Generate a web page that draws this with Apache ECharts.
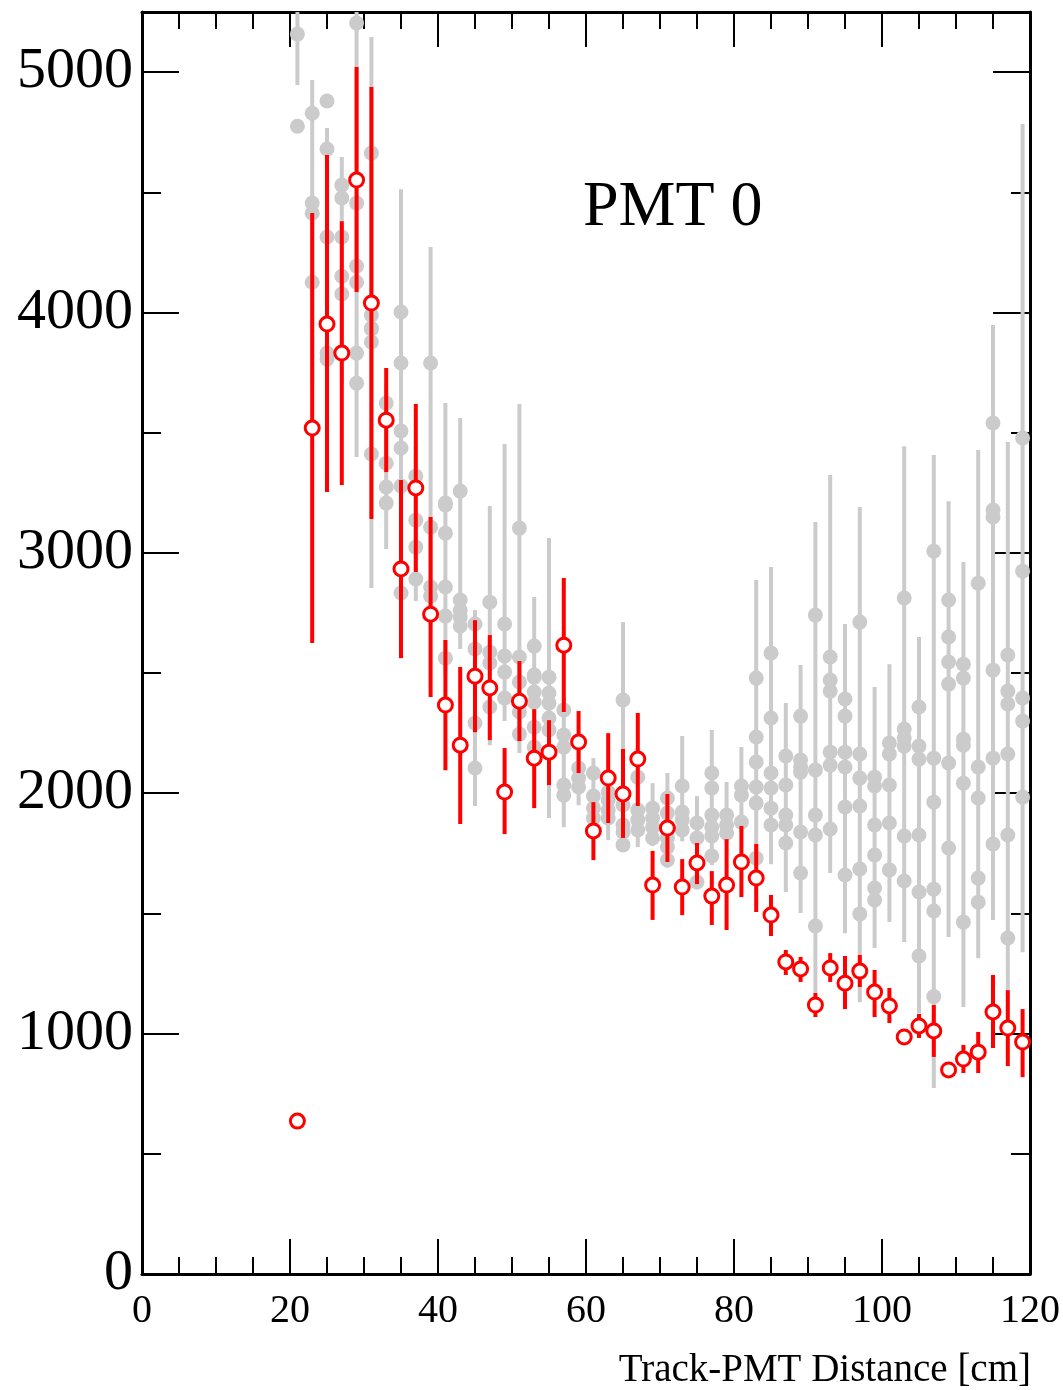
<!DOCTYPE html>
<html>
<head>
<meta charset="utf-8">
<script src="https://cdn.jsdelivr.net/npm/echarts@6/dist/echarts.min.js"></script>
<style>
html,body{margin:0;padding:0;background:#fff;}
#chart{width:1063px;height:1390px;}
</style>
</head>
<body>
<div id="chart"></div>
<script>
// ---- Red series (open circles): x, value, error-bar low end, error-bar high end
const redX  = [21,23,25,27,29,31,33,35,37,39,41,43,45,47,49,51,53,55,57,59,61,63,65,67,69,71,73,75,77,79,81,83,85,87,89,91,93,95,97,99,101,103,105,107,109,111,113,115,117,119];
const redY  = [636,3519,3952,3831,4551,4039,3552,2933,3270,2745,2367,2200,2487,2438,2005,2383,2146,2171,2616,2213,1843,2063,1997,2142,1618,1855,1610,1710,1572,1618,1714,1647,1493,1298,1269,1119,1273,1210,1260,1173,1115,986,1032,1011,849,894,923,1090,1023,965];
const redLo = [636,2625,3253,3282,4085,3141,3336,2562,2920,2400,2096,1872,2254,2221,1830,2217,1938,2034,2338,2084,1722,1876,1814,1947,1473,1714,1493,1622,1452,1431,1568,1506,1406,1244,1215,1069,1215,1102,1194,1069,1044,986,982,903,849,836,836,940,865,819];
const redHi = [636,4414,4655,4380,5021,4938,3769,3303,3619,3149,2637,2525,2720,2658,2188,2550,2350,2304,2895,2342,1963,2250,2184,2334,1760,1997,1726,1793,1676,1809,1864,1789,1577,1348,1319,1169,1335,1323,1327,1265,1190,986,1082,1119,849,953,1007,1244,1181,1102];

// ---- Grey series (filled dots): per x column, the dot values and the error-bar extent
const greyX  = [21,23,25,27,29,31,33,35,37,39,41,43,45,47,49,51,53,55,57,59,61,63,65,67,69,71,73,75,77,79,81,83,85,87,89,91,93,95,97,99,101,103,105,107,109,111,113,115,117,119];
const greyLo = [4946,3700,3700,3700,3399,2854,3016,2780,2800,2700,2500,2600,1947,2200,2300,2167,2150,1897,1859,1950,1850,1805,1760,1776,1780,1690,1800,1600,1700,1800,1840,1700,1705,1589,1502,1169,1668,1418,1131,1356,1464,1381,1086,774,1402,1111,1314,1473,1181,1339];
const greyHi = [5250,4967,4767,4647,5250,5146,3700,4513,3450,4272,3623,3561,2762,3195,3453,3619,2816,3062,2400,2200,2146,2100,2712,2150,2042,2084,2238,1988,2263,2047,2192,2887,2941,2375,2533,3128,3324,2704,3191,2442,2537,3444,2650,3407,3215,2962,3428,3948,3461,4784];
const greyY = [
  [5158,4775],
  [4829,4455,4413,4126],
  [4880,4680,4314,3831,3806],
  [4530,4476,4314,4151,4077],
  [5204,4455,4193,4126,3831,3706],
  [4663,3989,3935,3931,3877,3411],
  [3623,3373,3274,3207],
  [4002,3790,3507,3436,3278,2833],
  [3319,3136,3024,2891],
  [3790,3107,2858,2820],
  [3207,3199,3082,2858,2737,2562],
  [3257,2804,2761,2733,2696],
  [2704,2600,2492,2292,2105],
  [2795,2587,2542,2359],
  [2704,2571,2504,2396],
  [3103,2567,2463,2338,2246],
  [2612,2492,2483,2421,2379,2275,2192],
  [2483,2417,2375,2313,2263],
  [2346,2242,2192,2034,1992],
  [2105,2063,2026],
  [2084,1988,1938,1897],
  [2005,1972,1930,1897],
  [2388,1951,1868,1839,1785],
  [2067,1930,1889,1847],
  [1938,1897,1859,1814],
  [1980,1918,1814,1776,1722],
  [2030,1922,1889,1847],
  [1876,1814,1631],
  [2084,2022,1909,1859,1822,1739],
  [1909,1868,1834],
  [2030,1992,1880],
  [2479,2234,2130,2026,1959,1730],
  [2583,2313,2084,2022,1938,1868],
  [2155,2034,1909,1868,1793],
  [2321,2138,2109,2088,1839,1668],
  [2741,2097,1909,1826,1448],
  [2567,2471,2425,2171,2117,1851],
  [2392,2321,2171,2109,1943,1660],
  [2712,2163,2063,1947,1685,1498],
  [2067,2030,1868,1743,1606,1556],
  [2209,2163,2034,1876,1681],
  [2812,2267,2230,2196,1822,1635],
  [2359,2196,2142,1826,1589,1323],
  [3007,2146,1963,1601,1510,1154],
  [2804,2650,2546,2454,2126,1772],
  [2537,2479,2225,2200,2042,1464],
  [2874,2109,1980,1647,1547],
  [3540,3178,3149,2512,2146,1789],
  [2575,2425,2371,2163,1826,1398],
  [3478,2924,2396,2300,1984]
];

// ---- Axis settings / texts
const xMin = 0, xMax = 120, xStep = 20;
const yMin = 0, yMax = 5250, yStep = 1000;
const xTitle = 'Track-PMT Distance [cm]';
const panelLabel = 'PMT 0';

// ---- build library data
const greyPts = [];
greyX.forEach((x, i) => greyY[i].forEach(y => greyPts.push([x, y])));
const greyBars = greyX.map((x, i) => [x, greyLo[i], greyHi[i]]);
const redPts = redX.map((x, i) => [x, redY[i]]);
const redBars = redX.map((x, i) => [x, redLo[i], redHi[i]]);

const FONT = '"Liberation Serif", "DejaVu Serif", serif';

function barRenderer(color) {
  return function (params, api) {
    const a = api.coord([api.value(0), api.value(1)]);
    const b = api.coord([api.value(0), api.value(2)]);
    return {
      type: 'line',
      shape: { x1: a[0], y1: a[1], x2: b[0], y2: b[1] },
      style: { stroke: color, lineWidth: 4 }
    };
  };
}

function xAx(pos, showLabel) {
  return {
    type: 'value', min: xMin, max: xMax, interval: xStep, position: pos,
    axisLine: { show: true, onZero: false, lineStyle: { color: '#000', width: 3 } },
    axisTick: { show: true, inside: true, length: 35, lineStyle: { color: '#000', width: 2 } },
    minorTick: { show: true, splitNumber: 4, length: 17, lineStyle: { color: '#000', width: 2 } },
    splitLine: { show: false }, minorSplitLine: { show: false },
    axisLabel: { show: showLabel, fontFamily: FONT, fontSize: 40, color: '#000', margin: 17 }
  };
}
function yAx(pos, showLabel) {
  return {
    type: 'value', min: yMin, max: yMax, interval: yStep, position: pos,
    axisLine: { show: true, onZero: false, lineStyle: { color: '#000', width: 3 } },
    axisTick: { show: true, inside: true, length: 37, lineStyle: { color: '#000', width: 2 } },
    minorTick: { show: true, splitNumber: 2, length: 19, lineStyle: { color: '#000', width: 2 } },
    splitLine: { show: false }, minorSplitLine: { show: false },
    axisLabel: {
      show: showLabel, fontFamily: FONT, fontSize: 58, color: '#000', margin: 9,
      formatter: v => (v % yStep === 0 ? String(v) : '')
    }
  };
}

const chart = echarts.init(document.getElementById('chart'), null, { renderer: 'canvas' });
chart.setOption({
  animation: false,
  backgroundColor: '#fff',
  grid: { left: 142, top: 12, width: 890, height: 1262, containLabel: false },
  xAxis: [xAx('bottom', true), xAx('top', false)],
  yAxis: [yAx('left', true), yAx('right', false)],
  series: [
    { type: 'custom', name: 'greyErr', xAxisIndex: 0, yAxisIndex: 0, clip: true,
      renderItem: barRenderer('#cbcbcb'), data: greyBars, z: 1 },
    { type: 'scatter', name: 'grey', xAxisIndex: 0, yAxisIndex: 0, symbol: 'circle', symbolSize: 15,
      itemStyle: { color: '#cbcbcb', opacity: 1 }, data: greyPts, z: 2 },
    { type: 'custom', name: 'redErr', xAxisIndex: 0, yAxisIndex: 0, clip: true,
      renderItem: barRenderer('#ff0000'), data: redBars, z: 3 },
    { type: 'scatter', name: 'red', xAxisIndex: 0, yAxisIndex: 0, symbol: 'circle', symbolSize: 14,
      itemStyle: { color: '#ffffff', borderColor: '#ff0000', borderWidth: 3, opacity: 1 }, data: redPts, z: 4 }
  ],
  graphic: [
    { type: 'text', left: 583, top: 176,
      style: { text: panelLabel, font: '64px ' + FONT, fill: '#000' } },
    { type: 'text', right: 32, top: 1351,
      style: { text: xTitle, font: '39px ' + FONT, fill: '#000' } }
  ]
});
</script>
</body>
</html>
